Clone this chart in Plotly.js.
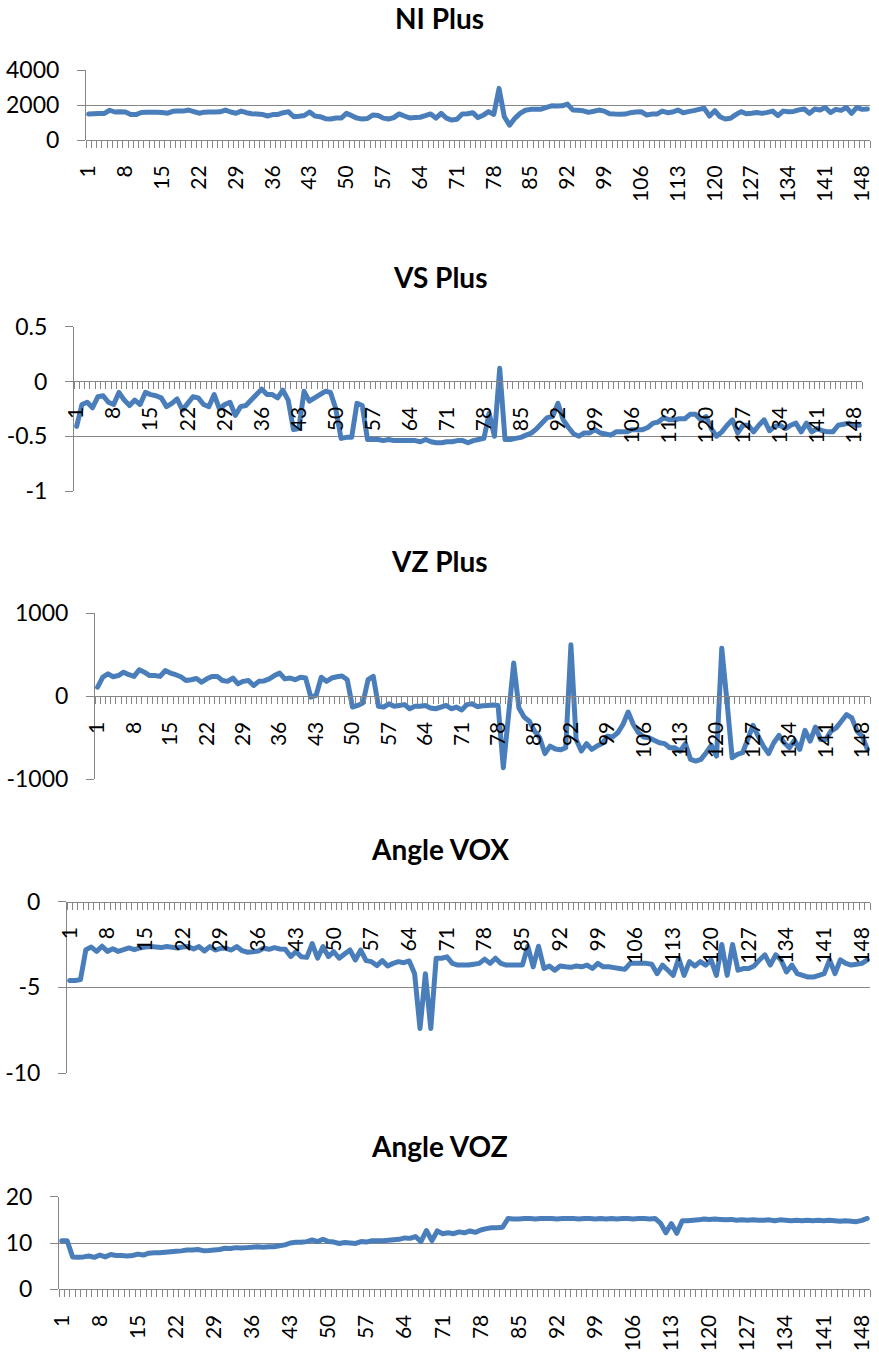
<!DOCTYPE html>
<html>
<head>
<meta charset="utf-8">
<script src="https://cdn.plot.ly/plotly-3.0.1.min.js"></script>
<style>
  html, body { margin: 0; padding: 0; background: #ffffff; }
  #chart { width: 879px; height: 1357px; }
  .js-line { stroke-linejoin: round !important; stroke-linecap: round !important; }
</style>
</head>
<body>
<div id="chart"></div>
<script>
// ---------- DATA ----------
const categories = Array.from({ length: 149 }, (_, k) => k + 1);
const xTickLabels = categories.filter(c => (c - 1) % 7 === 0).map(String);

const titles = ["NI Plus", "VS Plus", "VZ Plus", "Angle VOX", "Angle VOZ"];

const niPlus = [1480,1500,1510,1520,1700,1600,1610,1600,1460,1450,1570,1580,1580,1580,1570,1530,1640,1660,1650,1710,
1620,1530,1590,1600,1600,1610,1710,1600,1530,1650,1560,1500,1490,1460,1370,1450,1460,1560,1610,1330,
1360,1400,1600,1370,1330,1220,1200,1260,1250,1520,1390,1250,1200,1230,1430,1400,1250,1200,1280,1490,
1370,1260,1280,1300,1390,1490,1250,1520,1250,1140,1180,1480,1500,1560,1280,1420,1620,1460,2950,1330,
850,1240,1520,1700,1750,1750,1760,1860,1950,1940,1950,2050,1720,1700,1670,1580,1640,1710,1650,1500,
1480,1470,1480,1560,1600,1620,1430,1480,1480,1650,1560,1600,1710,1560,1620,1680,1750,1810,1370,1670,
1330,1200,1240,1450,1620,1500,1530,1570,1520,1580,1650,1390,1650,1620,1630,1720,1770,1520,1770,1710,
1860,1570,1750,1690,1860,1520,1860,1750,1770];

const vsPlus = [-0.41,-0.21,-0.19,-0.24,-0.14,-0.13,-0.19,-0.21,-0.10,-0.17,-0.22,-0.17,-0.21,-0.10,-0.12,-0.13,-0.15,-0.23,-0.20,-0.16,
-0.26,-0.20,-0.14,-0.15,-0.21,-0.23,-0.12,-0.25,-0.21,-0.19,-0.31,-0.23,-0.22,-0.17,-0.12,-0.07,-0.12,-0.12,-0.15,-0.08,
-0.17,-0.44,-0.43,-0.09,-0.18,-0.15,-0.12,-0.09,-0.10,-0.25,-0.52,-0.51,-0.51,-0.20,-0.22,-0.53,-0.53,-0.53,-0.54,-0.53,
-0.54,-0.54,-0.54,-0.54,-0.54,-0.55,-0.53,-0.55,-0.56,-0.56,-0.55,-0.55,-0.54,-0.54,-0.56,-0.54,-0.53,-0.52,-0.29,-0.50,
0.12,-0.53,-0.53,-0.52,-0.51,-0.49,-0.47,-0.43,-0.38,-0.33,-0.32,-0.20,-0.35,-0.42,-0.48,-0.50,-0.47,-0.47,-0.44,-0.47,
-0.48,-0.49,-0.46,-0.46,-0.46,-0.44,-0.44,-0.44,-0.42,-0.38,-0.37,-0.33,-0.35,-0.35,-0.34,-0.34,-0.30,-0.30,-0.35,-0.32,
-0.43,-0.50,-0.46,-0.40,-0.35,-0.47,-0.40,-0.40,-0.46,-0.40,-0.35,-0.45,-0.41,-0.40,-0.43,-0.40,-0.38,-0.46,-0.38,-0.46,
-0.43,-0.45,-0.46,-0.46,-0.40,-0.39,-0.38,-0.40,-0.40];

const vzPlus = [110,230,270,235,250,290,260,240,320,290,250,250,240,310,280,260,235,190,200,215,
170,210,240,240,190,180,220,150,180,190,130,180,185,210,250,280,210,220,200,230,
220,-10,10,230,180,220,235,245,200,-130,-110,-80,200,240,-120,-130,-90,-120,-110,-100,
-150,-120,-120,-110,-140,-150,-130,-110,-150,-130,-165,-100,-90,-125,-115,-110,-105,-110,-860,-230,
400,-140,-250,-300,-420,-500,-690,-600,-635,-645,-620,620,-520,-660,-570,-640,-600,-570,-480,-490,
-440,-340,-190,-340,-440,-490,-500,-530,-560,-570,-620,-620,-660,-570,-760,-780,-760,-680,-590,-720,
580,-60,-740,-700,-680,-520,-350,-480,-600,-690,-560,-470,-560,-620,-530,-640,-410,-540,-370,-520,
-520,-420,-380,-300,-220,-260,-420,-480,-640];

const angleVOX = [-4.6,-4.6,-4.55,-2.8,-2.65,-2.9,-2.6,-2.9,-2.75,-2.9,-2.8,-2.7,-2.8,-2.7,-2.65,-2.62,-2.65,-2.68,-2.62,-2.66,
-2.7,-2.65,-2.62,-2.76,-2.62,-2.88,-2.62,-2.82,-2.72,-2.72,-2.82,-2.62,-2.86,-2.95,-2.92,-2.88,-2.72,-2.78,-2.68,-2.76,
-2.78,-3.2,-2.92,-3.22,-3.25,-2.45,-3.3,-2.62,-3.2,-2.92,-3.3,-3.05,-2.82,-3.4,-2.82,-3.44,-3.5,-3.73,-3.44,-3.75,
-3.6,-3.5,-3.56,-3.46,-4.2,-7.4,-4.2,-7.4,-3.3,-3.3,-3.22,-3.6,-3.7,-3.7,-3.7,-3.65,-3.6,-3.35,-3.6,-3.3,
-3.6,-3.7,-3.7,-3.7,-3.7,-2.6,-3.8,-2.6,-3.9,-3.75,-4.0,-3.75,-3.8,-3.83,-3.75,-3.8,-3.7,-3.9,-3.6,-3.8,
-3.8,-3.85,-3.9,-3.95,-3.6,-3.6,-3.6,-3.6,-3.65,-4.2,-3.7,-4.0,-4.3,-3.3,-4.3,-3.5,-3.75,-3.5,-3.7,-3.4,
-4.3,-2.5,-4.3,-2.5,-4.0,-3.9,-3.9,-3.75,-3.4,-3.1,-3.7,-3.1,-3.4,-4.1,-3.7,-4.2,-4.3,-4.4,-4.4,-4.3,
-4.2,-3.4,-4.2,-3.4,-3.6,-3.7,-3.65,-3.6,-3.4];

const angleVOZ = [10.5,10.5,7.0,6.9,7.0,7.2,6.9,7.4,7.0,7.5,7.3,7.3,7.2,7.3,7.6,7.4,7.8,7.9,7.9,8.0,
8.1,8.2,8.3,8.5,8.5,8.6,8.35,8.4,8.5,8.6,8.85,8.8,9.0,8.9,9.0,9.1,9.2,9.1,9.2,9.2,
9.4,9.6,10.0,10.15,10.15,10.3,10.65,10.3,10.8,10.3,10.2,9.9,10.1,10.0,9.9,10.3,10.2,10.5,10.5,10.5,
10.6,10.7,10.8,11.1,11.0,11.4,10.3,12.7,10.5,12.6,12.0,12.2,12.0,12.4,12.2,12.6,12.3,12.8,13.1,13.3,
13.3,13.4,15.3,15.2,15.2,15.3,15.3,15.2,15.3,15.3,15.3,15.2,15.3,15.3,15.3,15.2,15.3,15.3,15.2,15.3,
15.2,15.3,15.2,15.3,15.3,15.2,15.3,15.3,15.2,15.3,14.3,12.2,14.2,12.1,14.8,14.8,14.9,15.0,15.2,15.1,
15.2,15.1,15.0,15.1,14.9,15.0,14.9,15.0,14.9,14.9,15.0,14.8,15.0,14.9,14.8,14.9,14.8,14.9,14.8,14.9,
14.8,14.9,14.8,14.7,14.8,14.7,14.6,14.9,15.3];

const series = [niPlus, vsPlus, vzPlus, angleVOX, angleVOZ];

const yTickVals = [
  [0, 2000, 4000],
  [-1, -0.5, 0, 0.5],
  [-1000, 0, 1000],
  [-10, -5, 0],
  [0, 10, 20]
];
const yTickText = [
  ["0", "2000", "4000"],
  ["-1", "-0.5", "0", "0.5"],
  ["-1000", "0", "1000"],
  ["-10", "-5", "0"],
  ["0", "10", "20"]
];

// ---------- LAYOUT (pixel boxes of each plot area) ----------
const W = 879, H = 1357;
const boxes = [
  { l: 86, r: 870, t: 70,    b: 140 },
  { l: 74, r: 862, t: 326.7, b: 491 },
  { l: 95, r: 870, t: 613.3, b: 779.3 },
  { l: 67, r: 870, t: 901.7, b: 1073 },
  { l: 59, r: 870, t: 1196.7, b: 1289.3 }
];
const titleY = [18, 277, 561, 849, 1146];

const FONT = "Lato, 'Open Sans', sans-serif";
const AXIS_GREY = "#868686";
const tickVals = categories.filter(c => (c - 1) % 7 === 0);
const NP = series.length;

const traces = [];
const layout = {
  width: W, height: H,
  margin: { l: 0, r: 0, t: 0, b: 0 },
  paper_bgcolor: "#ffffff",
  plot_bgcolor: "#ffffff",
  showlegend: false,
  annotations: []
};

series.forEach((vals, k) => {
  const n = k + 1;
  const m = k + 1 + NP;           // overlay axis carrying the tick comb
  const bx = boxes[k];
  const yr = [yTickVals[k][0], yTickVals[k][yTickVals[k].length - 1]];
  const dom = [1 - bx.b / H, 1 - bx.t / H];
  const zeroPos = dom[0] + (0 - yr[0]) / (yr[1] - yr[0]) * (dom[1] - dom[0]);
  const xr = [0.5, categories.length + 0.5];

  traces.push({
    type: "scatter", mode: "lines",
    x: categories, y: vals,
    xaxis: "x" + n, yaxis: "y" + n,
    line: { color: "#4a7ebb", width: 5, simplify: false },
    hoverinfo: "skip"
  });
  // invisible helper trace so the comb axis is drawn
  traces.push({
    type: "scatter", mode: "lines",
    x: [categories[0]], y: [null],
    xaxis: "x" + m, yaxis: "y" + n,
    hoverinfo: "skip", showlegend: false
  });

  layout["xaxis" + n] = {
    domain: [bx.l / W, bx.r / W],
    anchor: "free",
    position: zeroPos,
    range: xr,
    tickmode: "array",
    tickvals: tickVals,
    ticktext: xTickLabels,
    tickangle: -90,
    ticks: "outside",
    ticklen: 7,
    tickcolor: "rgba(0,0,0,0)",
    ticklabelstandoff: 9,
    tickfont: { family: FONT, size: 21, color: "#000000" },
    showline: true, linecolor: AXIS_GREY, linewidth: 1,
    showgrid: false, zeroline: false,
    fixedrange: true
  };

  layout["xaxis" + m] = {
    overlaying: "x" + n,
    anchor: "free",
    position: zeroPos,
    range: xr,
    tickmode: "linear",
    tick0: 0.5,
    dtick: 1,
    ticks: "outside",
    ticklen: 7,
    tickwidth: 1,
    tickcolor: AXIS_GREY,
    showticklabels: false,
    showline: false, showgrid: false, zeroline: false,
    fixedrange: true
  };

  layout["yaxis" + n] = {
    domain: dom,
    anchor: "x" + n,
    range: yr,
    tickmode: "array",
    tickvals: yTickVals[k],
    ticktext: yTickText[k],
    ticks: "outside", ticklen: 8, tickcolor: AXIS_GREY, tickwidth: 1,
    ticklabelstandoff: 13,
    tickfont: { family: FONT, size: 23, color: "#000000" },
    showline: true, linecolor: AXIS_GREY, linewidth: 1,
    showgrid: true, gridcolor: AXIS_GREY, gridwidth: 1,
    zeroline: false,
    fixedrange: true
  };

  layout.annotations.push({
    text: titles[k],
    xref: "paper", yref: "paper",
    x: 0.5, y: 1 - titleY[k] / H,
    xanchor: "center", yanchor: "middle",
    showarrow: false,
    font: { family: FONT, size: 28, color: "#000000", weight: 700 }
  });
});

Plotly.newPlot("chart", traces, layout, { staticPlot: true, displayModeBar: false });
</script>
</body>
</html>
